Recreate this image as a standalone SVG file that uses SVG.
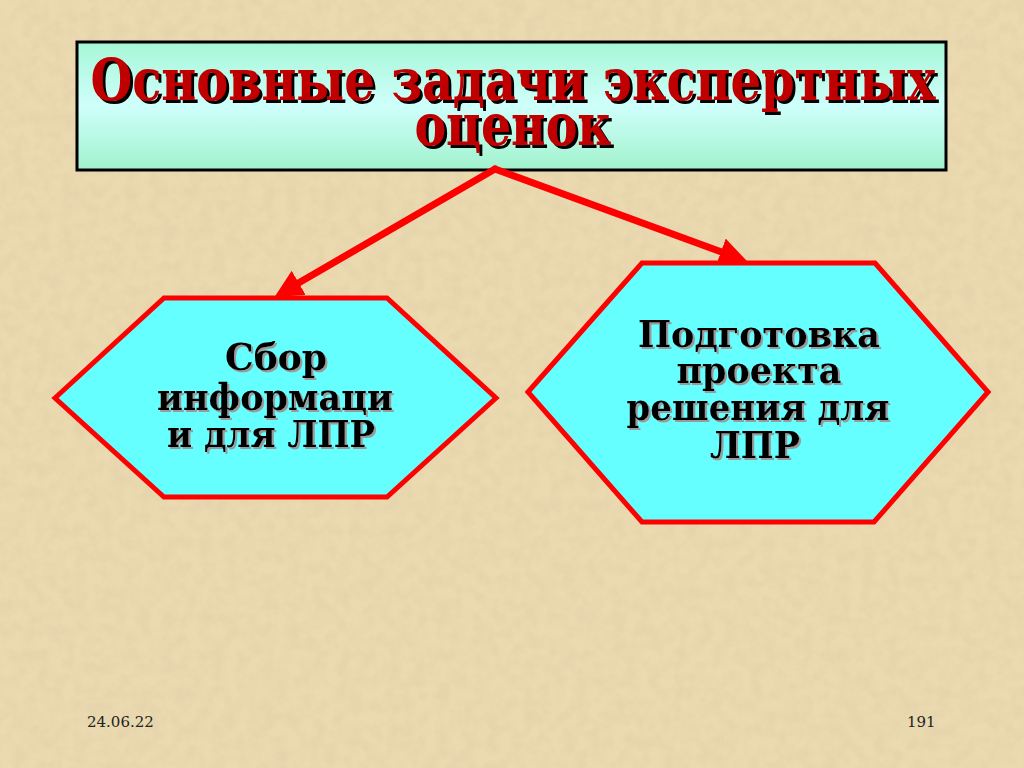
<svg xmlns="http://www.w3.org/2000/svg" width="1024" height="768" viewBox="0 0 1024 768">
<style>
.title{font-family:"DejaVu Serif","Liberation Serif",serif;font-weight:bold;font-size:58px;text-anchor:middle;fill:#C00000}
.hx{fill:#66FFFF;stroke:#FF0000;stroke-width:5;stroke-linejoin:miter}
.lbl{font-family:"DejaVu Serif","Liberation Serif",serif;font-weight:bold;font-size:38px;text-anchor:middle;fill:#000}
.foot{font-family:"DejaVu Serif","Liberation Serif",serif;font-size:15px;fill:#222}
.conn{stroke:#FF0000;stroke-width:7;fill:none;stroke-linecap:round;stroke-linejoin:round}
</style>
<defs>
<linearGradient id="tg" x1="0" y1="0" x2="0" y2="1">
<stop offset="0" stop-color="#A6F7D6"/>
<stop offset="0.5" stop-color="#CFFFFB"/>
<stop offset="1" stop-color="#A0F2CC"/>
</linearGradient>
<filter id="tex" x="0" y="0" width="100%" height="100%">
<feTurbulence type="fractalNoise" baseFrequency="0.08" numOctaves="3" seed="4" result="n"/>
<feColorMatrix in="n" type="matrix" values="0 0 0 0 0.55  0 0 0 0 0.45  0 0 0 0 0.3  0 0 0 0.9 -0.3" result="c"/>
<feComposite in="c" in2="SourceGraphic" operator="in"/>
</filter>
<filter id="shT" filterUnits="userSpaceOnUse" x="0" y="0" width="1024" height="768">
<feOffset in="SourceAlpha" dx="3" dy="3" result="o"/>
<feFlood flood-color="#000"/>
<feComposite in2="o" operator="in" result="s"/>
<feMerge><feMergeNode in="s"/><feMergeNode in="SourceGraphic"/></feMerge>
</filter>
<filter id="shL" filterUnits="userSpaceOnUse" x="0" y="0" width="1024" height="768">
<feOffset in="SourceAlpha" dx="2" dy="2" result="o"/>
<feFlood flood-color="#9A9A9A"/>
<feComposite in2="o" operator="in" result="s"/>
<feMerge><feMergeNode in="s"/><feMergeNode in="SourceGraphic"/></feMerge>
</filter>
<marker id="ah" markerWidth="4" markerHeight="4" refX="2.6" refY="2" orient="auto" markerUnits="strokeWidth">
<path d="M0,0 L4,2 L0,4 Z" fill="#FF0000"/>
</marker>
</defs>
<rect width="1024" height="768" fill="#EBDAB0"/>
<rect width="1024" height="768" fill="#EBDAB0" filter="url(#tex)" opacity="0.35"/>

<g id="title">
<rect x="77" y="42" width="869" height="128" fill="url(#tg)" stroke="#000" stroke-width="3"/>
<g filter="url(#shT)">
<text class="title" x="513" y="100" textLength="845" lengthAdjust="spacingAndGlyphs">Основные задачи экспертных</text>
<text class="title" x="513" y="145" textLength="197" lengthAdjust="spacingAndGlyphs">оценок</text>
</g>
</g>

<g id="connectors">
<path class="conn" d="M495,169 L283,292" marker-end="url(#ah)"/>
<path class="conn" d="M495,169 L738,258" marker-end="url(#ah)"/>
</g>

<g id="node-left">
<polygon class="hx" points="55,398 164,298 387,298 496,398 387,497 164,497"/>
<g filter="url(#shL)">
<text class="lbl" x="276" y="370" textLength="102" lengthAdjust="spacingAndGlyphs">Сбор</text>
<text class="lbl" x="275" y="410" textLength="236" lengthAdjust="spacingAndGlyphs">информаци</text>
<text class="lbl" x="271" y="447" textLength="208" lengthAdjust="spacingAndGlyphs">и для ЛПР</text>
</g>
</g>

<g id="node-right">
<polygon class="hx" points="528,392 642,263 875,263 988,392 874,522 642,522"/>
<g filter="url(#shL)">
<text class="lbl" x="759" y="347" textLength="242" lengthAdjust="spacingAndGlyphs">Подготовка</text>
<text class="lbl" x="759" y="383" textLength="165" lengthAdjust="spacingAndGlyphs">проекта</text>
<text class="lbl" x="758" y="420" textLength="263" lengthAdjust="spacingAndGlyphs">решения для</text>
<text class="lbl" x="755" y="458" textLength="90" lengthAdjust="spacingAndGlyphs">ЛПР</text>
</g>
</g>

<text class="foot" x="87" y="727">24.06.22</text>
<text class="foot" x="907" y="727">191</text>
</svg>
